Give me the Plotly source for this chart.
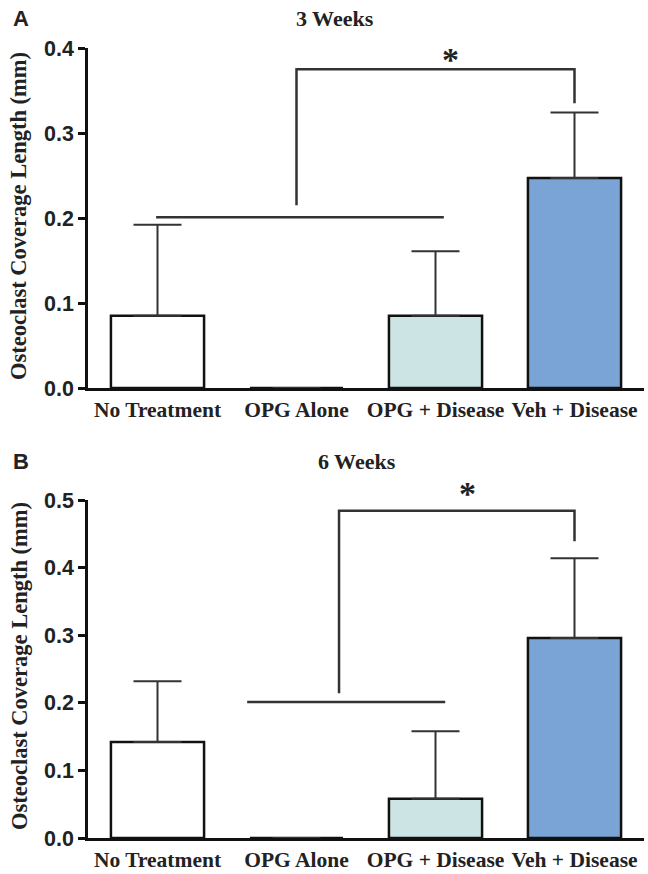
import plotly.graph_objects as go

categories = ["No Treatment", "OPG Alone", "OPG + Disease", "Veh + Disease"]
weeks3_mean = [0.085, 0.0, 0.085, 0.247]
weeks3_err = [0.107, None, 0.076, 0.077]
weeks6_mean = [0.142, 0.0, 0.058, 0.296]
weeks6_err = [0.090, None, 0.100, 0.118]
bar_colors = ["#ffffff", "#ffffff", "#cde4e4", "#7ba4d6"]
y_ticks_a = [0.0, 0.1, 0.2, 0.3, 0.4]
y_ticks_b = [0.0, 0.1, 0.2, 0.3, 0.4, 0.5]

# significance brackets
bracket_a = dict(base_x0=-0.01, base_x1=2.06, base_y=0.201, stem_x=1.0, stem_y0=0.215,
                 top_y=0.375, end_x=3.0, end_y=0.335, star_x=2.11, star_y=0.965)
bracket_b = dict(base_x0=0.645, base_x1=2.07, base_y=0.201, stem_x=1.306, stem_y0=0.214,
                 top_y=0.484, end_x=3.0, end_y=0.439, star_x=2.227, star_y=1.018)

W, H = 648, 874
serif = "Liberation Serif"
sans = "Liberation Sans"
txt = "#222222"
line_col = "#333333"

fig = go.Figure()

for mean, err, xa, ya in [(weeks3_mean, weeks3_err, "x", "y"), (weeks6_mean, weeks6_err, "x2", "y2")]:
    fig.add_trace(go.Bar(
        x=categories, y=mean, xaxis=xa, yaxis=ya, width=0.67,
        marker=dict(color=bar_colors, line=dict(color="#111111", width=2.5)),
        error_y=dict(type="data", array=err, arrayminus=[0, 0, 0, 0], symmetric=False,
                     color=line_col, thickness=2, width=24),
        showlegend=False, hoverinfo="skip",
    ))

def px_x(p):
    return p / W

def px_y(p):
    return 1 - p / H

x_dom = [px_x(88), px_x(644)]
common_x = dict(showline=True, linecolor="#111111", linewidth=2.5, ticks="", showgrid=False,
                zeroline=False, range=[-0.5, 3.5], automargin=False,
                tickfont=dict(family=serif, size=21.5, color=txt, weight="bold"))
common_y = dict(showline=True, linecolor="#111111", linewidth=2.5, ticks="outside", ticklen=7,
                tickwidth=2.5, tickcolor="#111111", showgrid=False, zeroline=False, automargin=False,
                tickformat=".1f", tickfont=dict(family=sans, size=21.5, color=txt, weight="bold"))

fig.update_layout(
    width=W, height=H, margin=dict(l=0, r=0, t=0, b=0, autoexpand=False),
    paper_bgcolor="white", plot_bgcolor="white",
    xaxis=dict(domain=x_dom, anchor="y", **common_x),
    yaxis=dict(domain=[px_y(388), px_y(48)], anchor="x", range=[0, 0.4], tickvals=y_ticks_a, **common_y),
    xaxis2=dict(domain=x_dom, anchor="y2", **common_x),
    yaxis2=dict(domain=[px_y(838), px_y(500)], anchor="x2", range=[0, 0.5], tickvals=y_ticks_b, **common_y),
)

shapes = []
annotations = []
for br, xr, yr in [(bracket_a, "x", "y"), (bracket_b, "x2", "y2")]:
    ln = dict(color=line_col, width=2.5)
    shapes.append(dict(type="line", xref=xr, yref=yr, x0=br["base_x0"], x1=br["base_x1"],
                       y0=br["base_y"], y1=br["base_y"], line=ln))
    shapes.append(dict(type="path", xref=xr, yref=yr,
                       path=f"M {br['stem_x']},{br['stem_y0']} L {br['stem_x']},{br['top_y']} "
                            f"L {br['end_x']},{br['top_y']} L {br['end_x']},{br['end_y']}",
                       line=ln))
    annotations.append(dict(xref=xr, yref=yr + " domain", x=br["star_x"], y=br["star_y"], text="*",
                            showarrow=False, font=dict(family=serif, size=34, color=txt, weight="bold"),
                            yanchor="middle"))

for label, title, ty, yc, tx in [("A", "3 Weeks", 18, 216, 335), ("B", "6 Weeks", 462, 666, 357)]:
    annotations.append(dict(xref="paper", yref="paper", x=px_x(21), y=px_y(ty), text=label,
                            showarrow=False, font=dict(family=sans, size=22, color=txt, weight="bold"),
                            xanchor="center", yanchor="middle"))
    annotations.append(dict(xref="paper", yref="paper", x=px_x(tx), y=px_y(ty), text=title,
                            showarrow=False, font=dict(family=serif, size=22, color=txt, weight="bold"),
                            xanchor="center", yanchor="middle"))
    annotations.append(dict(xref="paper", yref="paper", x=px_x(19), y=px_y(yc),
                            text="Osteoclast Coverage Length (mm)", textangle=-90,
                            showarrow=False, font=dict(family=serif, size=22.5, color=txt, weight="bold"),
                            xanchor="center", yanchor="middle"))

fig.update_layout(shapes=shapes, annotations=annotations)
fig.write_html("out.html", config={"displayModeBar": False},
               post_script="document.body.style.margin='0';document.body.style.padding='0';")
